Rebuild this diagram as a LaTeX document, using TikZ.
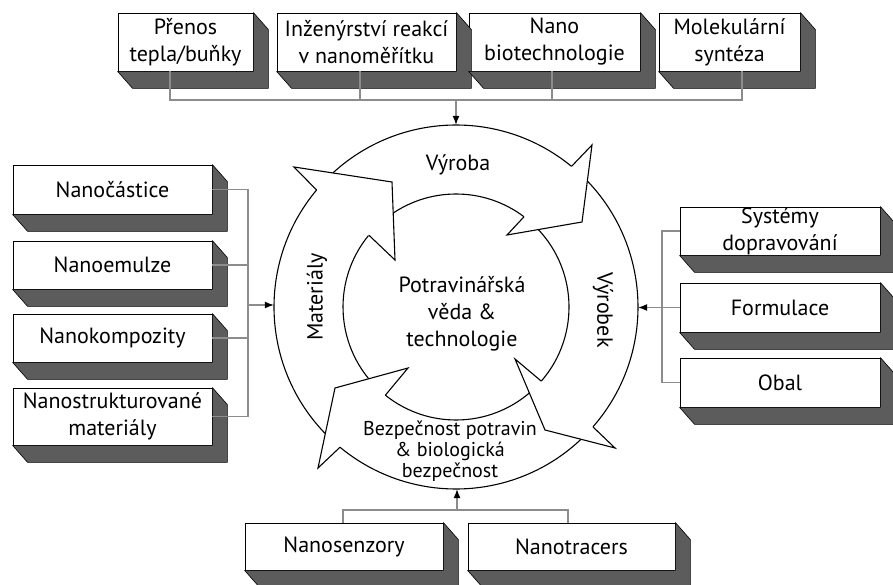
\documentclass[tikz,border=0pt]{standalone}
\usepackage{fontspec}
\setmainfont{PT Sans}
\usetikzlibrary{arrows.meta,calc}
\definecolor{extgray}{RGB}{92,92,92}
\definecolor{linegray}{RGB}{140,140,140}
\begin{document}
\begin{tikzpicture}[x=1pt,y=-1pt,
  box/.style={draw=black, line width=0.8pt, fill=white, rectangle, inner sep=0pt, align=center, font=\fontsize{22}{27}\selectfont},
  ext/.style={draw=black, line width=0.6pt, fill=extgray, line join=round},
  conn/.style={draw=linegray, line width=1.1pt},
  arr/.style={conn, -{Latex[length=9pt,width=7pt,color=black]}},
  ring/.style={draw=black, line width=1.1pt, line join=miter},
  lbl/.style={font=\fontsize{22}{27}\selectfont, align=center, inner sep=0pt},
]
\useasboundingbox (0,0) rectangle (893,585);
\coordinate (C) at (456,307);
\node[circle, minimum size=364pt, inner sep=0pt] (ring) at (C) {};

% boxes
\node[box, minimum width=135pt, minimum height=58pt] (t1) at (185.5,42) {Přenos\\tepla/buňky};
\node[box, minimum width=179pt, minimum height=58pt] (t2) at (366.5,42) {Inženýrství reakcí\\v nanoměřítku};
\node[box, minimum width=171pt, minimum height=58pt] (t3) at (554.5,42) {Nano\\biotechnologie};
\node[box, minimum width=141pt, minimum height=58pt] (t4) at (729.5,42) {Molekulární\\syntéza};

\node[box, minimum width=199pt, minimum height=49pt] (l1) at (112.5,189.5) {Nanočástice};
\node[box, minimum width=199pt, minimum height=48pt] (l2) at (112.5,265) {Nanoemulze};
\node[box, minimum width=199pt, minimum height=48pt] (l3) at (112.5,338) {Nanokompozity};
\node[box, minimum width=199pt, minimum height=57pt] (l4) at (112.5,416.5) {Nanostrukturované\\materiály};

\node[box, minimum width=200pt, minimum height=48pt] (r1) at (780,231) {Systémy\\dopravování};
\node[box, minimum width=200pt, minimum height=49pt] (r2) at (780,307.5) {Formulace};
\node[box, minimum width=200pt, minimum height=49pt] (r3) at (780,382.5) {Obal};

\node[box, minimum width=198pt, minimum height=47pt] (b1) at (344,546.5) {Nanosenzory};
\node[box, minimum width=207pt, minimum height=47pt] (b2) at (571.5,546.5) {Nanotracers};

\foreach \n in {t1,t2,t3,t4,l1,l2,l3,l4,r1,r2,r3,b1,b2}{
  \draw[ext] (\n.south west) -- ++(15,17) -- ($(\n.south east)+(15,17)$) -- ($(\n.north east)+(15,17)$) -- (\n.north east) -- (\n.south east) -- cycle;
}

% connectors
\coordinate (d1) at (170,100);
\coordinate (d2) at (360,100);
\coordinate (d3) at (552,100);
\coordinate (d4) at (742,100);
\coordinate (tj) at (456,100);
\draw[conn] (d1 |- t1.south) -- (d1) -- (d4) -- (d4 |- t4.south);
\draw[conn] (d2 |- t2.south) -- (d2);
\draw[conn] (d3 |- t3.south) -- (d3);
\draw[arr] (tj) -- (tj |- ring.north);

\coordinate (lv) at (248,305);
\draw[conn] (l1.east) -- (l1.east -| lv) -- (l4.east -| lv) -- (l4.east);
\draw[conn] (l2.east) -- (l2.east -| lv);
\draw[conn] (l3.east) -- (l3.east -| lv);
\draw[arr] (lv) -- (lv -| ring.west);

\coordinate (rv) at (662,307);
\draw[conn] (r1.west) -- (r1.west -| rv) -- (r3.west -| rv) -- (r3.west);
\draw[arr] (r2.west) -- (r2.west -| ring.east);

\coordinate (bd1) at (343,510);
\coordinate (bd2) at (568,510);
\coordinate (bj) at (457,510);
\draw[conn] (bd1 |- b1.north) -- (bd1) -- (bd2) -- (bd2 |- b2.north);
\draw[arr] (bj) -- (bj |- ring.south);

% ring shafts
\draw[ring] (C) ++(136:182pt) arc[start angle=136, end angle=50.6, radius=182pt];
\draw[ring] (C) ++(127.6:113pt) arc[start angle=127.6, end angle=53, radius=113pt];
\draw[ring] (C) ++(48:182pt) arc[start angle=48, end angle=-41.2, radius=182pt];
\draw[ring] (C) ++(47:113pt) arc[start angle=47, end angle=-41, radius=113pt];
\draw[ring] (C) ++(-42.8:182pt) arc[start angle=-42.8, end angle=-129.6, radius=182pt];
\draw[ring] (C) ++(-45.7:113pt) arc[start angle=-45.7, end angle=-128.7, radius=113pt];
\draw[ring] (C) ++(227.7:182pt) arc[start angle=227.7, end angle=140, radius=182pt];
\draw[ring] (C) ++(223.5:113pt) arc[start angle=223.5, end angle=140.5, radius=113pt];

% heads
\coordinate (Lno) at ($(C)+(140:182pt)$);   \coordinate (Lni) at ($(C)+(140.5:113pt)$);
\coordinate (Tno) at ($(C)+(50.6:182pt)$);  \coordinate (Tni) at ($(C)+(53:113pt)$);
\coordinate (Rno) at ($(C)+(-41.2:182pt)$); \coordinate (Rni) at ($(C)+(-41:113pt)$);
\coordinate (Bno) at ($(C)+(-129.6:182pt)$); \coordinate (Bni) at ($(C)+(-128.7:113pt)$);

\fill[white] (294,167) -- (392,182) -- (395,260) -- cycle;
\draw[ring] (Lno) -- (294,167) -- (392,182) -- (395,260) -- (Lni);
\fill[white] (592,145) -- (582,222) -- (507,235) -- cycle;
\draw[ring] (Tno) -- (592,145) -- (582,222) -- (507,235) -- (Tni);
\fill[white] (615,448) -- (545,430) -- (515,359) -- cycle;
\draw[ring] (Rno) -- (615,448) -- (545,430) -- (515,359) -- (Rni);
\fill[white] (318,468) -- (335,388) -- (408,368) -- cycle;
\draw[ring] (Bno) -- (318,468) -- (335,388) -- (408,368) -- (Bni);

% labels
\node[lbl] (lvyroba) at (458,165) {Výroba};
\node[lbl, rotate=90] (lmat) at (317,297) {Materiály};
\node[lbl, rotate=-90] (lvyrobek) at (603,310) {Výrobek};
\node[lbl] (lcenter) at (462,314) {Potravinářská\\věda \&\\technologie};
\node[lbl, font=\fontsize{20}{21}\selectfont] (lbez) at (450,451) {Bezpečnost potravin\\\& biologická\\bezpečnost};
\end{tikzpicture}
\end{document}
